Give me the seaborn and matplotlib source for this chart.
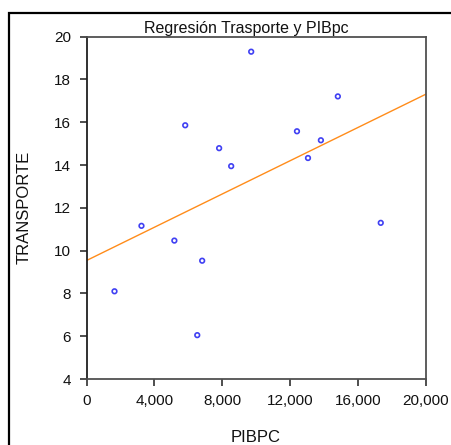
import matplotlib
matplotlib.use("Agg")
import matplotlib.pyplot as plt
import matplotlib.ticker as mticker
from matplotlib.patches import Rectangle
import seaborn as sns
import pandas as pd

pibpc = [1650, 3240, 5180, 5820, 6820, 6530, 7820, 8530, 9710, 12410, 13060, 13820, 14820, 17350]
transporte = [8.1, 11.16, 10.47, 15.86, 9.53, 6.05, 14.79, 13.95, 19.3, 15.58, 14.33, 15.16, 17.21, 11.3]
x_ticks = [0, 4000, 8000, 12000, 16000, 20000]
y_ticks = [4, 6, 8, 10, 12, 14, 16, 18, 20]
title = "Regresión Trasporte y PIBpc"

df = pd.DataFrame({"PIBPC": pibpc, "TRANSPORTE": transporte})

sns.set_style("ticks")
plt.rcParams["font.family"] = ["Liberation Sans", "DejaVu Sans"]

fig = plt.figure(figsize=(4.52, 4.45), dpi=100)
ax = fig.add_axes([0.1914, 0.1483, 0.7504, 0.7692])
ax.set_xlim(0, 20000)
ax.set_ylim(4, 20)
sns.regplot(data=df, x="PIBPC", y="TRANSPORTE", ax=ax, ci=None, truncate=False,
            scatter_kws=dict(marker="o", s=11, facecolors="none", edgecolors="#1010f0", linewidths=1.2),
            line_kws=dict(color="#ff8c1a", lw=1.0))
ax.set_xlim(0, 20000)
ax.set_ylim(4, 20)
ax.set_xticks(x_ticks)
ax.set_yticks(y_ticks)
ax.xaxis.set_major_formatter(mticker.FuncFormatter(lambda v, p: f"{int(v):,}"))
for s in ax.spines.values():
    s.set_visible(True)
    s.set_color("#505050")
    s.set_linewidth(1.3)
ax.spines["left"].set_color("#202020")
ax.tick_params(axis="both", direction="out", length=5, width=1.2, color="#303030",
               labelsize=11, labelcolor="#111111", pad=6)
ax.set_title(title, fontsize=11.5, color="#111111", pad=3, x=0.47)
ax.set_xlabel("PIBPC", fontsize=12, color="#111111")
ax.set_ylabel("TRANSPORTE", fontsize=12, color="#111111")
ax.xaxis.set_label_coords(0.5, -0.149)
ax.yaxis.set_label_coords(-0.162, 0.5)

fig.patches.append(Rectangle((8.5 / 452, -0.1), 1.2, 1.1 - 13 / 445, transform=fig.transFigure,
                             fill=False, edgecolor="black", linewidth=1.6, clip_on=False))

fig.savefig("out.png", dpi=100)
